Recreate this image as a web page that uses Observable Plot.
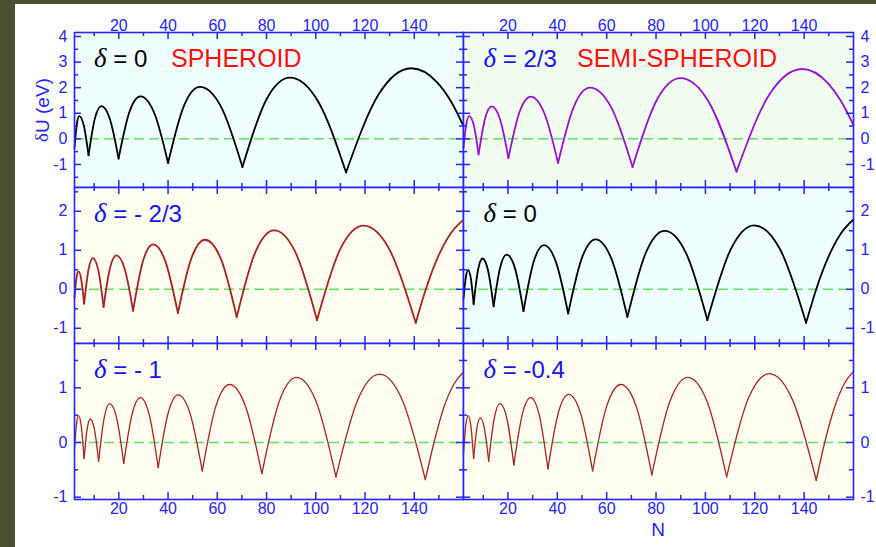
<!DOCTYPE html>
<html><head><meta charset="utf-8">
<script src="https://cdn.jsdelivr.net/npm/d3@7"></script>
<script src="https://cdn.jsdelivr.net/npm/@observablehq/plot@0.6"></script>
<style>
html,body{margin:0;padding:0;background:#fff;}
#chart{position:relative;width:876px;height:547px;background:#fff;overflow:hidden;font-family:"Liberation Sans",Arial,sans-serif;}
.strip{position:absolute;background:#4a5130;}
#chart svg{position:absolute;overflow:visible;background:transparent;}
</style></head><body>
<div id="chart">
  <div class="strip" style="left:0;top:0;width:15px;height:547px"></div>
  <div class="strip" style="left:0;top:0;width:876px;height:4px"></div>
</div>
<script>
// ---- data (N, δU in eV) ----
const nSpheroid = [2, 2.95, 3.9, 5.8, 7.7, 10.3, 12.9, 16.4, 19.9, 24.3, 28.75, 34.4, 40.0, 46.45, 52.9, 61.55, 70.2, 79.85, 89.5, 100.9, 112.3, 125.55, 138.8, 149.4, 155, 160];
const uSpheroid = [-0.34, 0.58, 0.89, 0.51, -0.64, 0.80, 1.28, 0.77, -0.77, 1.05, 1.66, 1.01, -0.94, 1.29, 2.03, 1.25, -1.10, 1.52, 2.39, 1.47, -1.31, 1.74, 2.76, 2.20, 1.45, 0.50];

const nSemi = [2, 3.15, 4.3, 6.2, 8.1, 10.75, 13.4, 16.8, 20.2, 24.7, 29.2, 34.75, 40.3, 46.75, 53.2, 61.85, 70.5, 80.2, 89.9, 101.25, 112.6, 125.9, 139.2, 149.6, 155, 160];
const uSemi = [-0.34, 0.58, 0.89, 0.52, -0.61, 0.80, 1.27, 0.77, -0.75, 1.05, 1.65, 1.00, -0.94, 1.27, 2.00, 1.23, -1.10, 1.50, 2.37, 1.46, -1.28, 1.73, 2.73, 2.18, 1.47, 0.54];

const nMinus23 = [2, 2.8, 3.6, 4.75, 5.9, 7.7, 9.5, 11.65, 13.8, 16.4, 19.0, 22.4, 25.8, 29.85, 33.9, 38.95, 44.0, 49.5, 55.0, 61.45, 67.9, 75.5, 83.1, 91.8, 100.5, 109.95, 119.4, 130.0, 140.6, 145, 150, 155, 160];
const uMinus23 = [-0.22, 0.29, 0.46, 0.25, -0.37, 0.51, 0.80, 0.49, -0.45, 0.54, 0.87, 0.52, -0.55, 0.73, 1.15, 0.71, -0.61, 0.80, 1.27, 0.78, -0.71, 0.96, 1.51, 0.94, -0.79, 1.03, 1.63, 1.01, -0.86, 0.06, 0.88, 1.45, 1.78];

const nZero = [2, 2.95, 3.9, 5.0, 6.1, 7.9, 9.7, 11.95, 14.2, 16.85, 19.5, 22.9, 26.3, 30.45, 34.6, 39.5, 44.4, 49.95, 55.5, 61.95, 68.4, 75.95, 83.5, 92.15, 100.8, 110.3, 119.8, 130.3, 140.8, 145.2, 150.2, 155.1, 160];
const uZero = [-0.24, 0.31, 0.49, 0.27, -0.38, 0.50, 0.79, 0.48, -0.44, 0.56, 0.89, 0.53, -0.56, 0.71, 1.13, 0.69, -0.62, 0.80, 1.28, 0.78, -0.71, 0.95, 1.50, 0.93, -0.79, 1.03, 1.64, 1.02, -0.86, 0.06, 0.88, 1.45, 1.79];

const nMinus1 = [2, 2.8, 3.6, 4.75, 5.9, 7.15, 8.4, 10.1, 11.8, 14.05, 16.3, 19.15, 22.0, 25.4, 28.75, 32.4, 36.0, 40.05, 44.1, 49.0, 53.9, 59.45, 65.0, 71.55, 78.1, 85.15, 92.2, 100.2, 108.2, 117.05, 125.9, 135.2, 144.5, 148.3, 152, 156, 160];
const uMinus1 = [-0.14, 0.33, 0.49, 0.30, -0.29, 0.25, 0.43, 0.24, -0.34, 0.45, 0.71, 0.44, -0.38, 0.52, 0.82, 0.50, -0.46, 0.54, 0.87, 0.52, -0.52, 0.67, 1.06, 0.65, -0.57, 0.75, 1.19, 0.74, -0.63, 0.78, 1.25, 0.77, -0.68, 0.05, 0.64, 1.06, 1.29];

const nMinus04 = [2, 2.95, 3.9, 5.0, 6.1, 7.45, 8.8, 10.5, 12.2, 14.5, 16.8, 19.6, 22.4, 25.8, 29.2, 32.7, 36.2, 40.4, 44.6, 49.45, 54.3, 60.05, 65.8, 72.05, 78.3, 85.6, 92.9, 100.75, 108.6, 117.25, 125.9, 135.4, 144.9, 148.6, 152.3, 156.2, 160];
const uMinus04 = [-0.20, 0.32, 0.49, 0.30, -0.29, 0.27, 0.45, 0.25, -0.34, 0.45, 0.71, 0.43, -0.41, 0.51, 0.82, 0.50, -0.48, 0.54, 0.88, 0.53, -0.52, 0.67, 1.06, 0.65, -0.59, 0.75, 1.19, 0.74, -0.63, 0.79, 1.26, 0.77, -0.69, 0.05, 0.64, 1.07, 1.30];

// ---- tick labels ----
const xTickLabels = [20, 40, 60, 80, 100, 120, 140];
const xMinorTicks = [10, 30, 50, 70, 90, 110, 130, 150];
const yTopLabels = [-1, 0, 1, 2, 3, 4];
const yTopMinor = [-1.5, -0.5, 0.5, 1.5, 2.5, 3.5];
const yMidLabels = [-1, 0, 1, 2];
const yMidMinor = [-0.5, 0.5, 1.5, 2.5];
const yBotLabels = [-1, 0, 1];
const yBotMinor = [-0.5, 0.5, 1.5];

// ---- layout / style ----
const blue = "#2424ff";
const textBlue = "#1414f0";
const brown = "#a82222";
const colX = [74, 463, 853];
const rowY = [32, 187, 343, 499];
const yDomains = [[-1.9, 4.156], [-1.39, 2.61], [-1.042, 1.81]];
const yLabelsByRow = [yTopLabels, yMidLabels, yBotLabels];
const yMinorByRow = [yTopMinor, yMidMinor, yBotMinor];

const panels = [
  {n: nSpheroid, u: uSpheroid, row: 0, col: 0, bg: "#effefe", stroke: "#000000", sw: 1.8,
   label: [{t: "δ", it: true, c: "#000"}, {t: " = 0", c: "#000"}], extra: {t: "SPHEROID", x: 171}},
  {n: nSemi, u: uSemi, row: 0, col: 1, bg: "#f1fdf1", stroke: "#9a10d0", sw: 1.8,
   label: [{t: "δ", it: true, c: textBlue}, {t: " = 2/3", c: textBlue}], extra: {t: "SEMI-SPHEROID", x: 577}},
  {n: nMinus23, u: uMinus23, row: 1, col: 0, bg: "#fefef1", stroke: brown, sw: 1.8,
   label: [{t: "δ", it: true, c: textBlue}, {t: " = - 2/3", c: textBlue}]},
  {n: nZero, u: uZero, row: 1, col: 1, bg: "#effefe", stroke: "#000000", sw: 1.8,
   label: [{t: "δ", it: true, c: "#000"}, {t: " = 0", c: "#000"}]},
  {n: nMinus1, u: uMinus1, row: 2, col: 0, bg: "#fefef1", stroke: brown, sw: 1.3,
   label: [{t: "δ", it: true, c: textBlue}, {t: " = - 1", c: textBlue}]},
  {n: nMinus04, u: uMinus04, row: 2, col: 1, bg: "#fefef1", stroke: brown, sw: 1.3,
   label: [{t: "δ", it: true, c: textBlue}, {t: " = -0.4", c: textBlue}]}
];

// split each series into arches at its cusps (interior local minima)
function toRows(ns, us) {
  const rows = [];
  let seg = 0;
  for (let i = 0; i < ns.length; i++) {
    rows.push({N: ns[i], U: us[i], seg});
    if (i > 0 && i < ns.length - 1 && us[i] < us[i - 1] && us[i] < us[i + 1]) {
      seg++;
      rows.push({N: ns[i], U: us[i], seg});
    }
  }
  return rows;
}

const chart = document.getElementById("chart");
const FONT = "Liberation Sans, Arial, sans-serif";

for (const p of panels) {
  const left = p.col === 0 ? 0 : colX[1];
  const width = p.col === 0 ? colX[1] : 876 - colX[1];
  const mL = p.col === 0 ? colX[0] : 0;
  const mR = p.col === 0 ? 0 : 876 - colX[2];
  const top = p.row === 0 ? 0 : rowY[p.row];
  const mT = p.row === 0 ? rowY[0] : 0;
  const mB = p.row === 2 ? 48 : 0;
  const Hp = rowY[p.row + 1] - rowY[p.row];
  const height = Hp + mT + mB;
  const Wp = width - mL - mR;
  const yl = yLabelsByRow[p.row], ym = yMinorByRow[p.row];

  const marks = [
    Plot.frame({fill: p.bg, stroke: null}),
    Plot.ruleY([0], {stroke: "#5fe05f", strokeWidth: 1.5, strokeDasharray: "10,5"}),
    Plot.line(toRows(p.n, p.u), {x: "N", y: "U", z: "seg", curve: "monotone-x", stroke: p.stroke, strokeWidth: p.sw}),
    // inward ticks on all four sides
    Plot.tickX(xTickLabels, {x: d => d, stroke: blue, strokeWidth: 1.5, insetTop: Hp - 7}),
    Plot.tickX(xTickLabels, {x: d => d, stroke: blue, strokeWidth: 1.5, insetBottom: Hp - 7}),
    Plot.tickX(xMinorTicks, {x: d => d, stroke: blue, strokeWidth: 1.5, insetTop: Hp - 4}),
    Plot.tickX(xMinorTicks, {x: d => d, stroke: blue, strokeWidth: 1.5, insetBottom: Hp - 4}),
    Plot.tickY(yl, {y: d => d, stroke: blue, strokeWidth: 1.5, insetRight: Wp - 7}),
    Plot.tickY(yl, {y: d => d, stroke: blue, strokeWidth: 1.5, insetLeft: Wp - 7}),
    Plot.tickY(ym, {y: d => d, stroke: blue, strokeWidth: 1.5, insetRight: Wp - 4}),
    Plot.tickY(ym, {y: d => d, stroke: blue, strokeWidth: 1.5, insetLeft: Wp - 4}),
    Plot.frame({stroke: blue, strokeWidth: 1.6})
  ];
  // y tick labels
  if (p.col === 0) {
    marks.push(Plot.text(yl, {y: d => d, text: d => String(d), frameAnchor: "left", textAnchor: "end", dx: -7, fill: blue, fontSize: 16}));
  } else {
    marks.push(Plot.text(yl, {y: d => d, text: d => String(d), frameAnchor: "right", textAnchor: "start", dx: 7, fill: blue, fontSize: 16}));
  }
  // x tick labels
  if (p.row === 0) {
    marks.push(Plot.text(xTickLabels, {x: d => d, text: d => String(d), frameAnchor: "top", dy: -13, fill: blue, fontSize: 16}));
  } else if (p.row === 2) {
    marks.push(Plot.text(xTickLabels, {x: d => d, text: d => String(d), frameAnchor: "bottom", dy: 14, fill: blue, fontSize: 16}));
  }

  const svg = Plot.plot({
    width, height,
    marginLeft: mL, marginRight: mR, marginTop: mT, marginBottom: mB,
    x: {domain: [2, 160], axis: null},
    y: {domain: yDomains[p.row], axis: null},
    style: {background: "transparent", overflow: "visible", fontFamily: FONT, fontSize: "16px"},
    marks
  });
  svg.style.left = left + "px";
  svg.style.top = top + "px";
  chart.appendChild(svg);

  const s = d3.select(svg);
  const baseline = [66.5, 222.3, 378.3][p.row];
  const lx = p.col === 0 ? 94 : 483.5;
  const t = s.append("text")
    .attr("x", lx - left).attr("y", baseline - top)
    .attr("text-anchor", "start")
    .style("white-space", "pre")
    .attr("font-size", 24)
    .attr("font-family", FONT);
  for (const part of p.label) {
    const ts = t.append("tspan").text(part.t).attr("fill", part.c);
    if (part.it) ts.attr("font-family", "Liberation Serif, Times New Roman, serif").attr("font-style", "italic").attr("font-size", 27);
  }
  if (p.extra) {
    s.append("text").attr("x", p.extra.x - left).attr("y", baseline - top)
      .attr("text-anchor", "start")
      .attr("font-size", 25).attr("fill", "#ff0f0f")
      .attr("font-family", FONT)
      .text(p.extra.t);
  }
  if (p.row === 0 && p.col === 0) {
    const yt = s.append("text")
      .attr("transform", `translate(${44 - left},${110 - top}) rotate(-90)`)
      .attr("text-anchor", "middle").attr("dominant-baseline", "middle")
      .attr("font-size", 19).attr("fill", blue)
      .style("white-space", "pre")
      .attr("font-family", FONT);
    yt.append("tspan").text("δ").attr("font-family", "Liberation Serif, Times New Roman, serif");
    yt.append("tspan").text("U (eV)");
  }
  if (p.row === 2 && p.col === 1) {
    s.append("text")
      .attr("x", 658 - left).attr("y", 531 - top)
      .attr("text-anchor", "middle").attr("dominant-baseline", "middle")
      .attr("font-size", 19).attr("fill", blue)
      .attr("font-family", FONT)
      .text("N");
  }
}
</script>
</body></html>
